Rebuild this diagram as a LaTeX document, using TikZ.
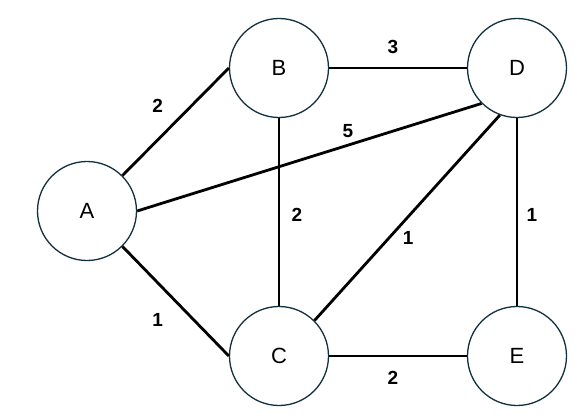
\documentclass[tikz,border=0pt]{standalone}
\usepackage{fontspec}
\setmainfont{Liberation Sans}
\usepackage{tikz}
\usetikzlibrary{positioning,calc}

\definecolor{ringcol}{HTML}{12303F}

\begin{document}
\begin{tikzpicture}[
    x=1pt, y=-1pt,
    vertex/.style={draw=ringcol, line width=1.3pt, circle, minimum size=99pt, inner sep=0pt, font=\fontsize{22}{25}\selectfont},
    link/.style={draw=black, line width=2.8pt},
    weight/.style={font=\bfseries\fontsize{19}{22}\selectfont, inner sep=0pt}
  ]
    \useasboundingbox (0,0) rectangle (586,420);

    \node[vertex] (A) at (87,211) {A};
    \node[vertex] (B) at (279,68) {B};
    \node[vertex] (D) at (517,68) {D};
    \node[vertex] (C) at (279,356) {C};
    \node[vertex] (E) at (517,356) {E};

    \draw[link] (A.north east) -- node[weight, midway, xshift=-18pt, yshift=16pt] {2} (B.west);
    \draw[link] (B.east) -- node[weight, midway, xshift=-5pt, yshift=21pt] {3} (D.west);
    \draw[link] (A.east) -- node[weight, pos=0.6, xshift=4pt, yshift=15pt] {5} (D.south west);
    \draw[link] (B.south) -- node[weight, midway, xshift=18pt, yshift=-3pt] {2} (C.north);
    \draw[link] (C.north east) -- node[weight, midway, xshift=1pt, yshift=-20pt] {1} (D.250);
    \draw[link] (D.south) -- node[weight, midway, xshift=15pt, yshift=-3pt] {1} (E.north);
    \draw[link] (A.south east) -- node[weight, midway, xshift=-18pt, yshift=-19pt] {1} (C.west);
    \draw[link] (C.east) -- node[weight, midway, xshift=-5pt, yshift=-22pt] {2} (E.west);
  \end{tikzpicture}
\end{document}
